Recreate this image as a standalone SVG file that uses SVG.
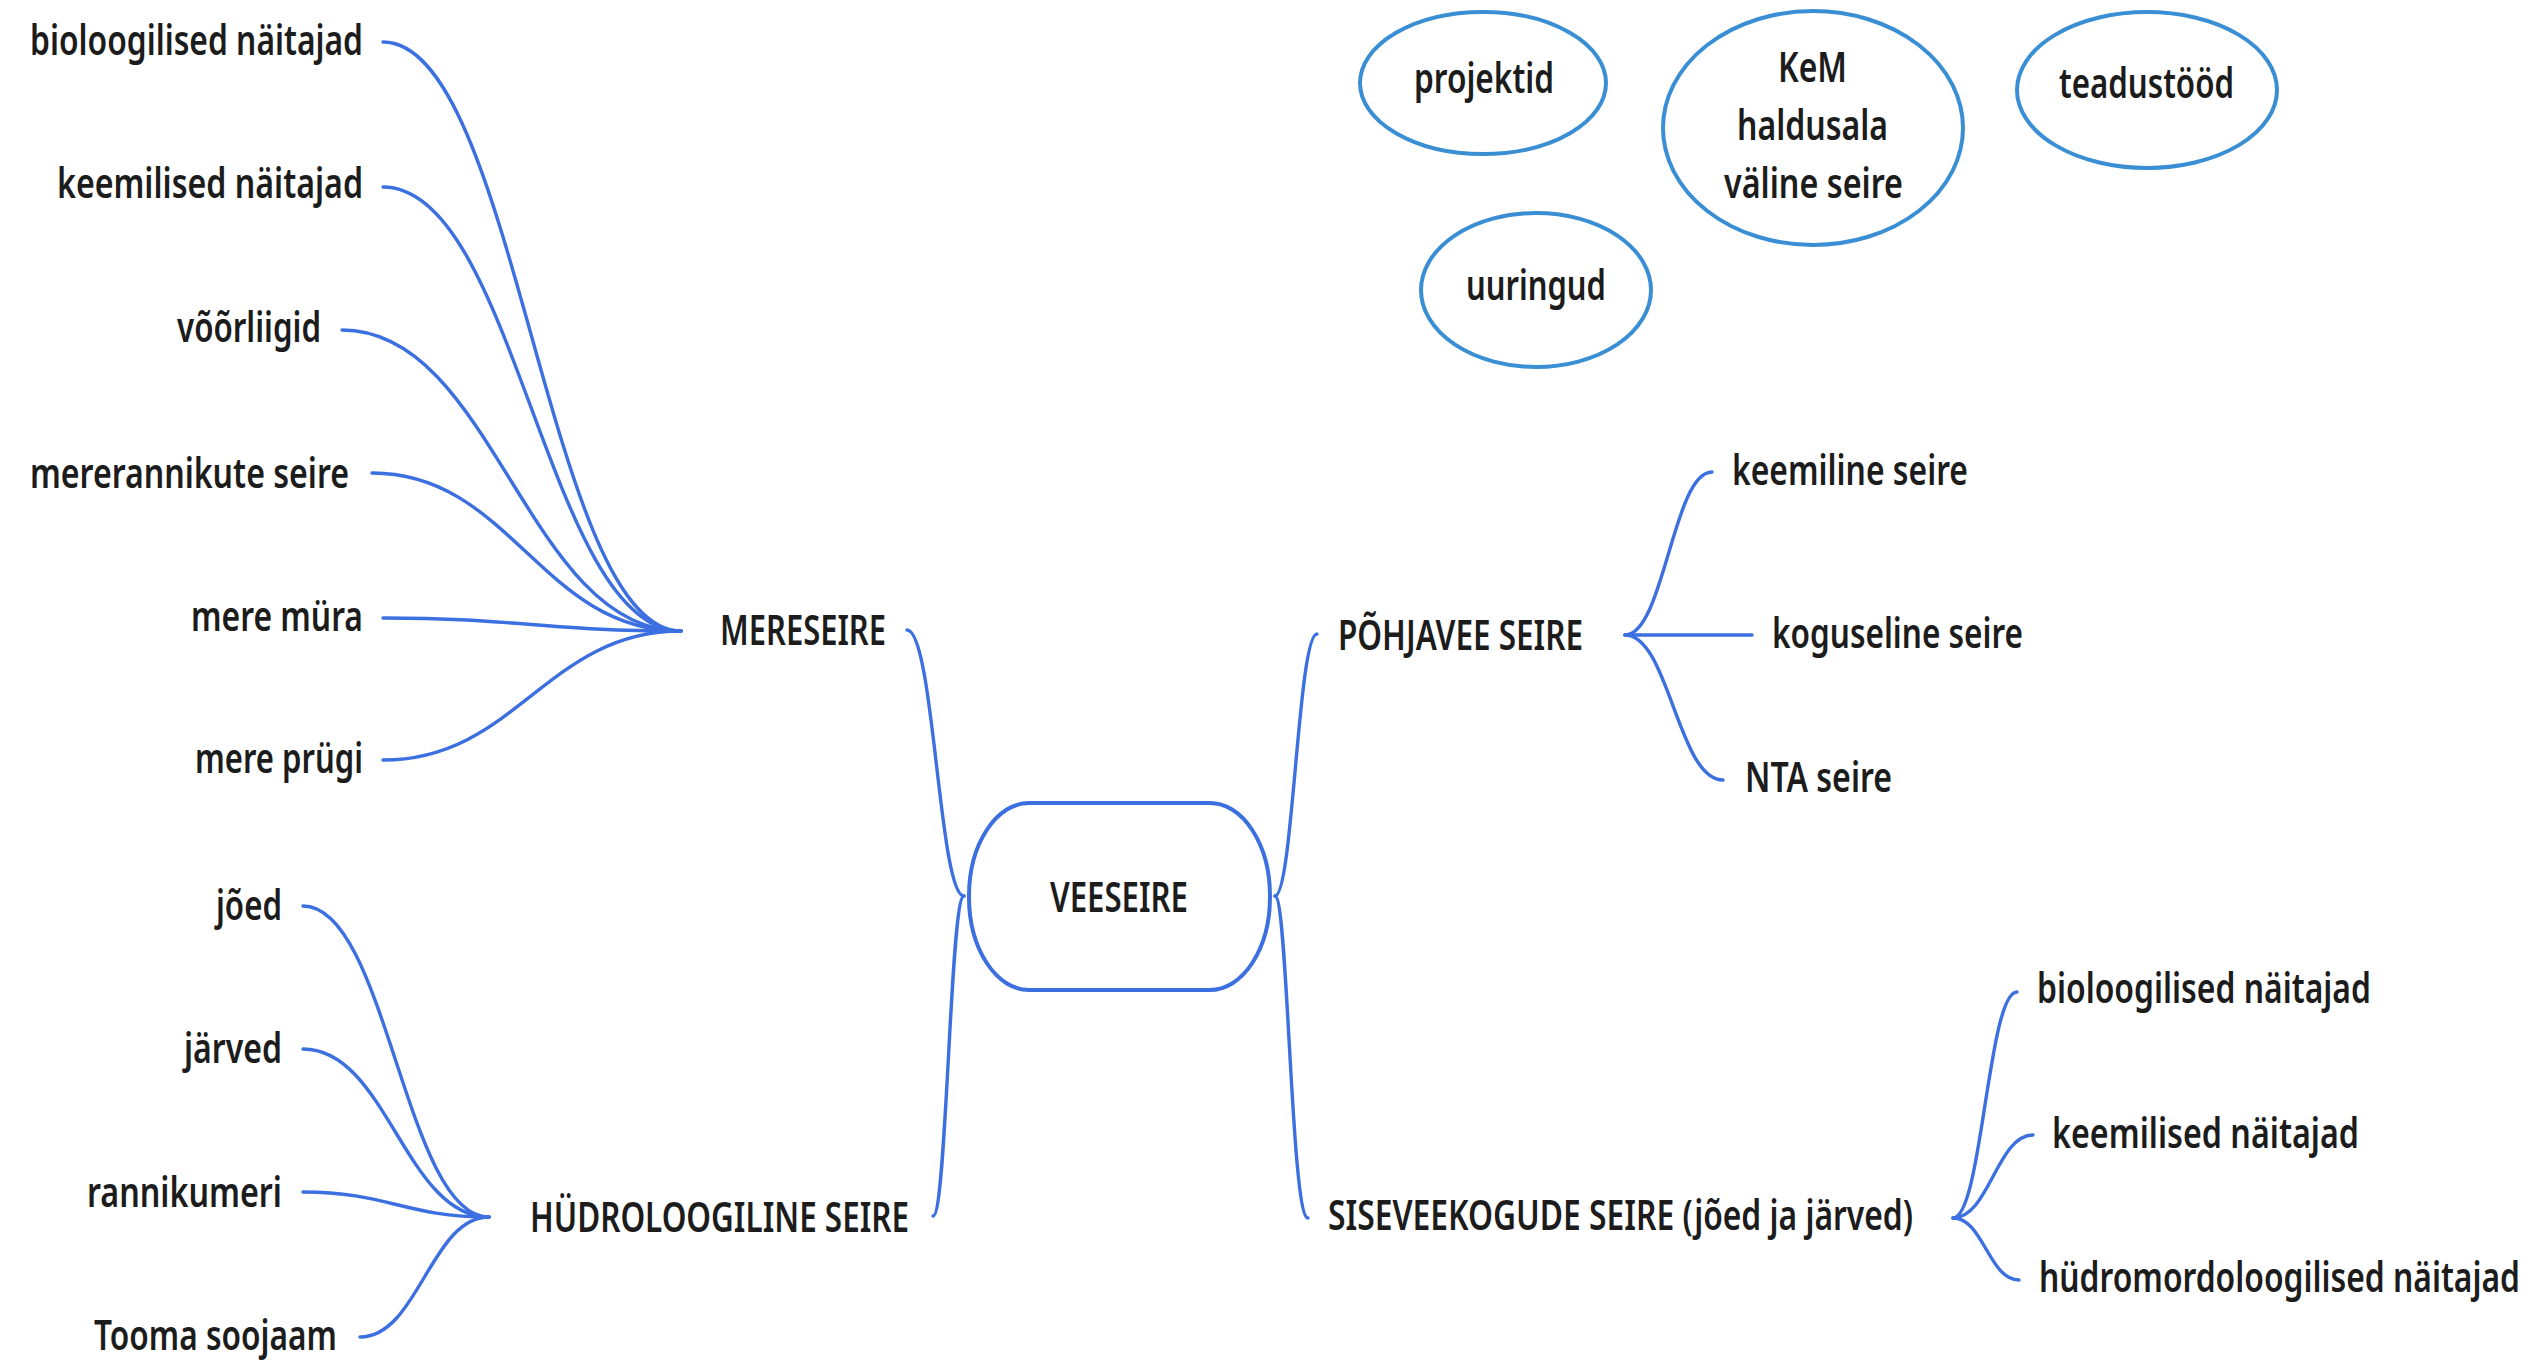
<svg xmlns="http://www.w3.org/2000/svg" width="2536" height="1361" viewBox="0 0 2536 1361">
<style>
text{font-family:"Noto Sans","Open Sans","DejaVu Sans",sans-serif;font-weight:600;font-size:41px;fill:#1c1c1c}
.c{fill:none;stroke:#3c6fdf;stroke-width:3.4;stroke-linecap:round}
.oval{fill:#fff;stroke:#3a8fd4;stroke-width:4}
.box{fill:#fff;stroke:#3c6fdf;stroke-width:4}
</style>
<rect width="2536" height="1361" fill="#fff"/>
<g id="connectors">
<path class="c" d="M383,42 C516,42 547,631 681,631"/>
<path class="c" d="M383,187 C516,187 547,631 681,631"/>
<path class="c" d="M342,330 C494,330 527,631 681,631"/>
<path class="c" d="M372,473 C511,473 541,631 681,631"/>
<path class="c" d="M383,618 C516,618 547,631 681,631"/>
<path class="c" d="M383,760 C516,760 547,631 681,631"/>
<path class="c" d="M303,906 C387,906 405,1217 489,1217"/>
<path class="c" d="M303,1049 C387,1049 405,1217 489,1217"/>
<path class="c" d="M303,1192 C387,1192 405,1217 489,1217"/>
<path class="c" d="M360,1337 C418,1337 431,1217 489,1217"/>
<path class="c" d="M964,896 C939,896 934,630 907,630"/>
<path class="c" d="M964,896 C950,896 947,1216 933,1216"/>
<path class="c" d="M1275,896 C1293,896 1298,634 1317,634"/>
<path class="c" d="M1275,896 C1288,896 1291,1218 1308,1218"/>
<path class="c" d="M1625,635 C1664,635 1673,472 1712,472"/>
<path class="c" d="M1625,635 L1752,635"/>
<path class="c" d="M1625,635 C1669,635 1678,780 1723,780"/>
<path class="c" d="M1953,1218 C1982,1218 1988,992 2017,992"/>
<path class="c" d="M1953,1218 C1989,1218 1997,1135 2033,1135"/>
<path class="c" d="M1953,1218 C1983,1218 1989,1280 2019,1280"/>
</g>
<g id="veeseire">
<rect class="box" x="969" y="803" width="301" height="187" rx="60" ry="93"/>
<text x="1050" y="912" textLength="138" lengthAdjust="spacingAndGlyphs">VEESEIRE</text>
</g>
<g id="mereseire"><text x="720" y="645" textLength="166" lengthAdjust="spacingAndGlyphs">MERESEIRE</text></g>
<g id="hudro"><text x="530" y="1232" textLength="379" lengthAdjust="spacingAndGlyphs">HÜDROLOOGILINE SEIRE</text></g>
<g id="pohjavee"><text x="1338" y="650" textLength="245" lengthAdjust="spacingAndGlyphs">PÕHJAVEE SEIRE</text></g>
<g id="siseveekogude"><text x="1328" y="1230" textLength="585" lengthAdjust="spacingAndGlyphs">SISEVEEKOGUDE SEIRE (jõed ja järved)</text></g>
<g id="m-bio"><text x="30" y="55" textLength="333" lengthAdjust="spacingAndGlyphs">bioloogilised näitajad</text></g>
<g id="m-keem"><text x="57" y="198" textLength="306" lengthAdjust="spacingAndGlyphs">keemilised näitajad</text></g>
<g id="m-voor"><text x="177" y="342" textLength="144" lengthAdjust="spacingAndGlyphs">võõrliigid</text></g>
<g id="m-rann"><text x="30" y="488" textLength="319" lengthAdjust="spacingAndGlyphs">mererannikute seire</text></g>
<g id="m-mura"><text x="191" y="631" textLength="172" lengthAdjust="spacingAndGlyphs">mere müra</text></g>
<g id="m-prugi"><text x="195" y="773" textLength="168" lengthAdjust="spacingAndGlyphs">mere prügi</text></g>
<g id="h-joed"><text x="216" y="920" textLength="66" lengthAdjust="spacingAndGlyphs">jõed</text></g>
<g id="h-jarved"><text x="184" y="1063" textLength="98" lengthAdjust="spacingAndGlyphs">järved</text></g>
<g id="h-rann"><text x="87" y="1207" textLength="195" lengthAdjust="spacingAndGlyphs">rannikumeri</text></g>
<g id="h-tooma"><text x="94" y="1350" textLength="243" lengthAdjust="spacingAndGlyphs">Tooma soojaam</text></g>
<g id="p-keem"><text x="1732" y="485" textLength="236" lengthAdjust="spacingAndGlyphs">keemiline seire</text></g>
<g id="p-kogus"><text x="1772" y="648" textLength="251" lengthAdjust="spacingAndGlyphs">koguseline seire</text></g>
<g id="p-nta"><text x="1745" y="792" textLength="147" lengthAdjust="spacingAndGlyphs">NTA seire</text></g>
<g id="s-bio"><text x="2037" y="1003" textLength="334" lengthAdjust="spacingAndGlyphs">bioloogilised näitajad</text></g>
<g id="s-keem"><text x="2052" y="1148" textLength="307" lengthAdjust="spacingAndGlyphs">keemilised näitajad</text></g>
<g id="s-hudro"><text x="2039" y="1292" textLength="481" lengthAdjust="spacingAndGlyphs">hüdromordoloogilised näitajad</text></g>
<g id="projektid">
<ellipse class="oval" cx="1483" cy="83" rx="123" ry="71"/>
<text x="1414" y="93" textLength="140" lengthAdjust="spacingAndGlyphs">projektid</text>
</g>
<g id="kem">
<ellipse class="oval" cx="1813" cy="128" rx="150" ry="117"/>
<text x="1778" y="82" textLength="69" lengthAdjust="spacingAndGlyphs">KeM</text>
<text x="1737" y="140" textLength="151" lengthAdjust="spacingAndGlyphs">haldusala</text>
<text x="1724" y="198" textLength="179" lengthAdjust="spacingAndGlyphs">väline seire</text>
</g>
<g id="teadustood">
<ellipse class="oval" cx="2147" cy="90" rx="130" ry="78"/>
<text x="2059" y="98" textLength="175" lengthAdjust="spacingAndGlyphs">teadustööd</text>
</g>
<g id="uuringud">
<ellipse class="oval" cx="1536" cy="290" rx="115" ry="77"/>
<text x="1466" y="300" textLength="140" lengthAdjust="spacingAndGlyphs">uuringud</text>
</g>
</svg>
